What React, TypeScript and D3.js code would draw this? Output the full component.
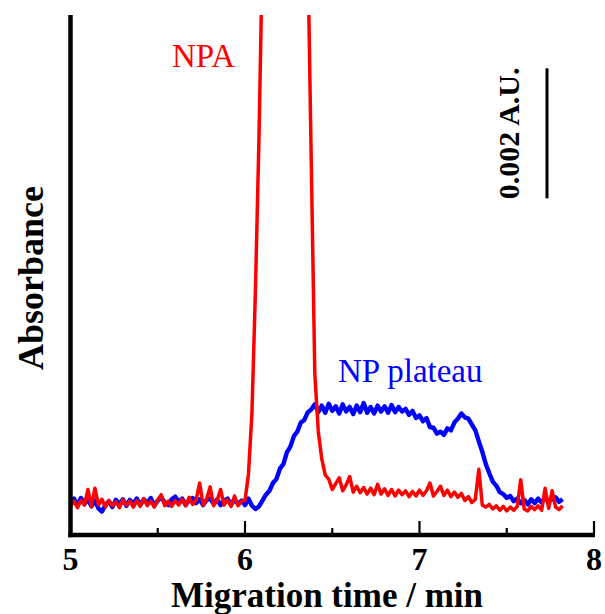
import React from "react";
import * as d3 from "d3";

// Sampling of the electropherogram (min)
const START = 5.0;
const STEP = 0.02;

// NP (blue) absorbance, mAU, one value per sample from 5.00 to 7.82 min
const npSeries = [
  0.02, 0.07, -0.03, 0.08, -0.01, 0.06, -0.05, 0.04, -0.08, -0.13,
  -0.03, 0.03, -0.06, 0.05, -0.02, 0.06, -0.04, 0.05, -0.01, 0.07,
  -0.03, 0.06, 0.0, 0.08, -0.04, 0.04, 0.09, 0.01, -0.03, 0.06,
  0.1, 0.02, 0.07, -0.03, 0.05, 0.08, 0.0, 0.06, -0.03, 0.05,
  0.07, -0.01, 0.06, -0.03, 0.04, 0.07, -0.02, 0.05, -0.01, 0.04,
  -0.03, 0.07, -0.04, -0.09, -0.05, 0.04, 0.13, 0.19, 0.31, 0.37,
  0.53, 0.6, 0.78, 0.87, 1.03, 1.1, 1.24, 1.28, 1.4, 1.44,
  1.52, 1.4, 1.5, 1.39, 1.53, 1.42, 1.49, 1.38, 1.52, 1.41,
  1.48, 1.37, 1.5, 1.4, 1.54, 1.39, 1.48, 1.38, 1.5, 1.41,
  1.49, 1.39, 1.51, 1.4, 1.48, 1.41, 1.45, 1.36, 1.42, 1.31,
  1.35, 1.26, 1.31, 1.17, 1.16, 1.07, 1.1, 1.05, 1.15, 1.12,
  1.24, 1.3, 1.38, 1.32, 1.3, 1.21, 1.12, 0.95, 0.79, 0.6,
  0.46, 0.33, 0.27, 0.17, 0.14, 0.08, 0.11, 0.03, 0.07, 0.0,
  0.05, -0.02, 0.06, 0.0, 0.07, 0.01, 0.08, 0.02, 0.06, 0.09,
  0.02, 0.06,
];

// NPA (red) absorbance, mAU, same sampling
const npaSeries = [
  -0.05, 0.03, -0.07, 0.04, -0.03, 0.21, -0.05, 0.23, -0.03, 0.06,
  -0.06, 0.04, -0.04, 0.02, -0.07, 0.05, -0.03, 0.03, -0.06, 0.04,
  -0.05, 0.07, -0.04, 0.03, -0.06, 0.05, 0.13, -0.04, 0.03, -0.05,
  0.04, -0.03, 0.06, -0.04, 0.09, -0.02, 0.05, 0.31, -0.03, 0.06,
  0.25, -0.04, 0.04, 0.21, -0.03, 0.05, -0.05, 0.11, -0.04, 0.03,
  0.04, 0.45, 1.4, 3.3, 5.6, 8.5, 12.5, 17.0, 20.5, 23.0,
  24.0, 24.0, 23.0, 21.5, 19.0, 16.5, 13.5, 11.0, 8.5, 5.2,
  2.0, 1.1, 0.68, 0.43, 0.37, 0.21, 0.3, 0.39, 0.19, 0.28,
  0.41, 0.17, 0.26, 0.16, 0.24, 0.14, 0.23, 0.13, 0.29, 0.14,
  0.22, 0.12, 0.21, 0.11, 0.2, 0.13, 0.19, 0.1, 0.18, 0.11,
  0.2, 0.12, 0.19, 0.31, 0.11, 0.18, 0.26, 0.12, 0.2, 0.1,
  0.17, 0.09, 0.15, 0.04, 0.1, 0.01, 0.06, 0.52, -0.03, -0.06,
  -0.02, -0.09, -0.04, -0.11, -0.05, -0.12, -0.06, -0.11, -0.05, 0.36,
  -0.09, -0.12, -0.05, -0.1, -0.04, -0.11, 0.23, -0.08, 0.19, -0.06,
  -0.1, -0.04,
];

const xTicksMajor = [5, 6, 7, 8];
const xTicksMinor = [5.5, 6.5, 7.5];
const scaleBar = { from: 4.69, length: 2, label: "0.002 A.U." };

const W = 605;
const H = 614;
const FONT = "'Liberation Serif', 'Times New Roman', serif";

export default function App() {
  const x = d3.scaleLinear().domain([5, 8]).range([70.5, 594]);
  const y = d3.scaleLinear().domain([-0.49, 7.51]).range([535, 15]);

  const line = d3
    .line<number>()
    .x((_, i) => x(START + i * STEP))
    .y((d) => y(d))
    .curve(d3.curveLinear);

  const x0 = x(5);
  const x1 = x(8);
  const yb = y.range()[0];
  const yt = y.range()[1];

  return (
    <svg
      width={W}
      height={H}
      style={{ position: "absolute", left: 0, top: 0, background: "#fff" }}
    >
      <defs>
        <clipPath id="plot">
          <rect x={x0} y={yt} width={x1 - x0} height={yb - yt} />
        </clipPath>
      </defs>
      <rect x={0} y={0} width={W} height={H} fill="#fff" />

      <g clipPath="url(#plot)">
        <path d={line(npSeries) || ""} fill="none" stroke="#0000ff" strokeWidth={4.4} strokeLinejoin="round" />
        <path d={line(npaSeries) || ""} fill="none" stroke="#ff0000" strokeWidth={3.5} strokeLinejoin="round" />
      </g>

      {/* axes */}
      <line x1={x0} y1={yt} x2={x0} y2={yb + 2.2} stroke="#000" strokeWidth={4.5} />
      <line x1={x0 - 2.2} y1={yb} x2={x1 + 1} y2={yb} stroke="#000" strokeWidth={4.5} />
      {xTicksMajor.map((t) => (
        <line key={"M" + t} x1={x(t)} x2={x(t)} y1={yb} y2={yb - 14} stroke="#000" strokeWidth={2.2} />
      ))}
      {xTicksMinor.map((t) => (
        <line key={"m" + t} x1={x(t)} x2={x(t)} y1={yb} y2={yb - 7} stroke="#000" strokeWidth={2.2} />
      ))}
      {xTicksMajor.map((t) => (
        <text
          key={"l" + t}
          x={x(t)}
          y={570}
          textAnchor="middle"
          fontFamily={FONT}
          fontWeight="bold"
          fontSize={32}
          fill="#000"
        >
          {t}
        </text>
      ))}
      <text x={327} y={607} textAnchor="middle" fontFamily={FONT} fontWeight="bold" fontSize={35} fill="#000">
        Migration time / min
      </text>
      <text
        transform={`translate(43, 278) rotate(-90)`}
        textAnchor="middle"
        fontFamily={FONT}
        fontWeight="bold"
        fontSize={36}
        fill="#000"
      >
        Absorbance
      </text>

      {/* scale bar */}
      <line
        x1={547}
        x2={547}
        y1={y(scaleBar.from)}
        y2={y(scaleBar.from + scaleBar.length)}
        stroke="#000"
        strokeWidth={3}
      />
      <text
        transform={`translate(519, ${(y(scaleBar.from) + y(scaleBar.from + scaleBar.length)) / 2}) rotate(-90)`}
        textAnchor="middle"
        fontFamily={FONT}
        fontWeight="bold"
        fontSize={30}
        fill="#000"
      >
        {scaleBar.label}
      </text>

      {/* annotations */}
      <text x={172} y={67} fontFamily={FONT} fontSize={33} fill="#ff0000">
        NPA
      </text>
      <text x={338} y={382} fontFamily={FONT} fontSize={33} fill="#0000ff">
        NP plateau
      </text>
    </svg>
  );
}
